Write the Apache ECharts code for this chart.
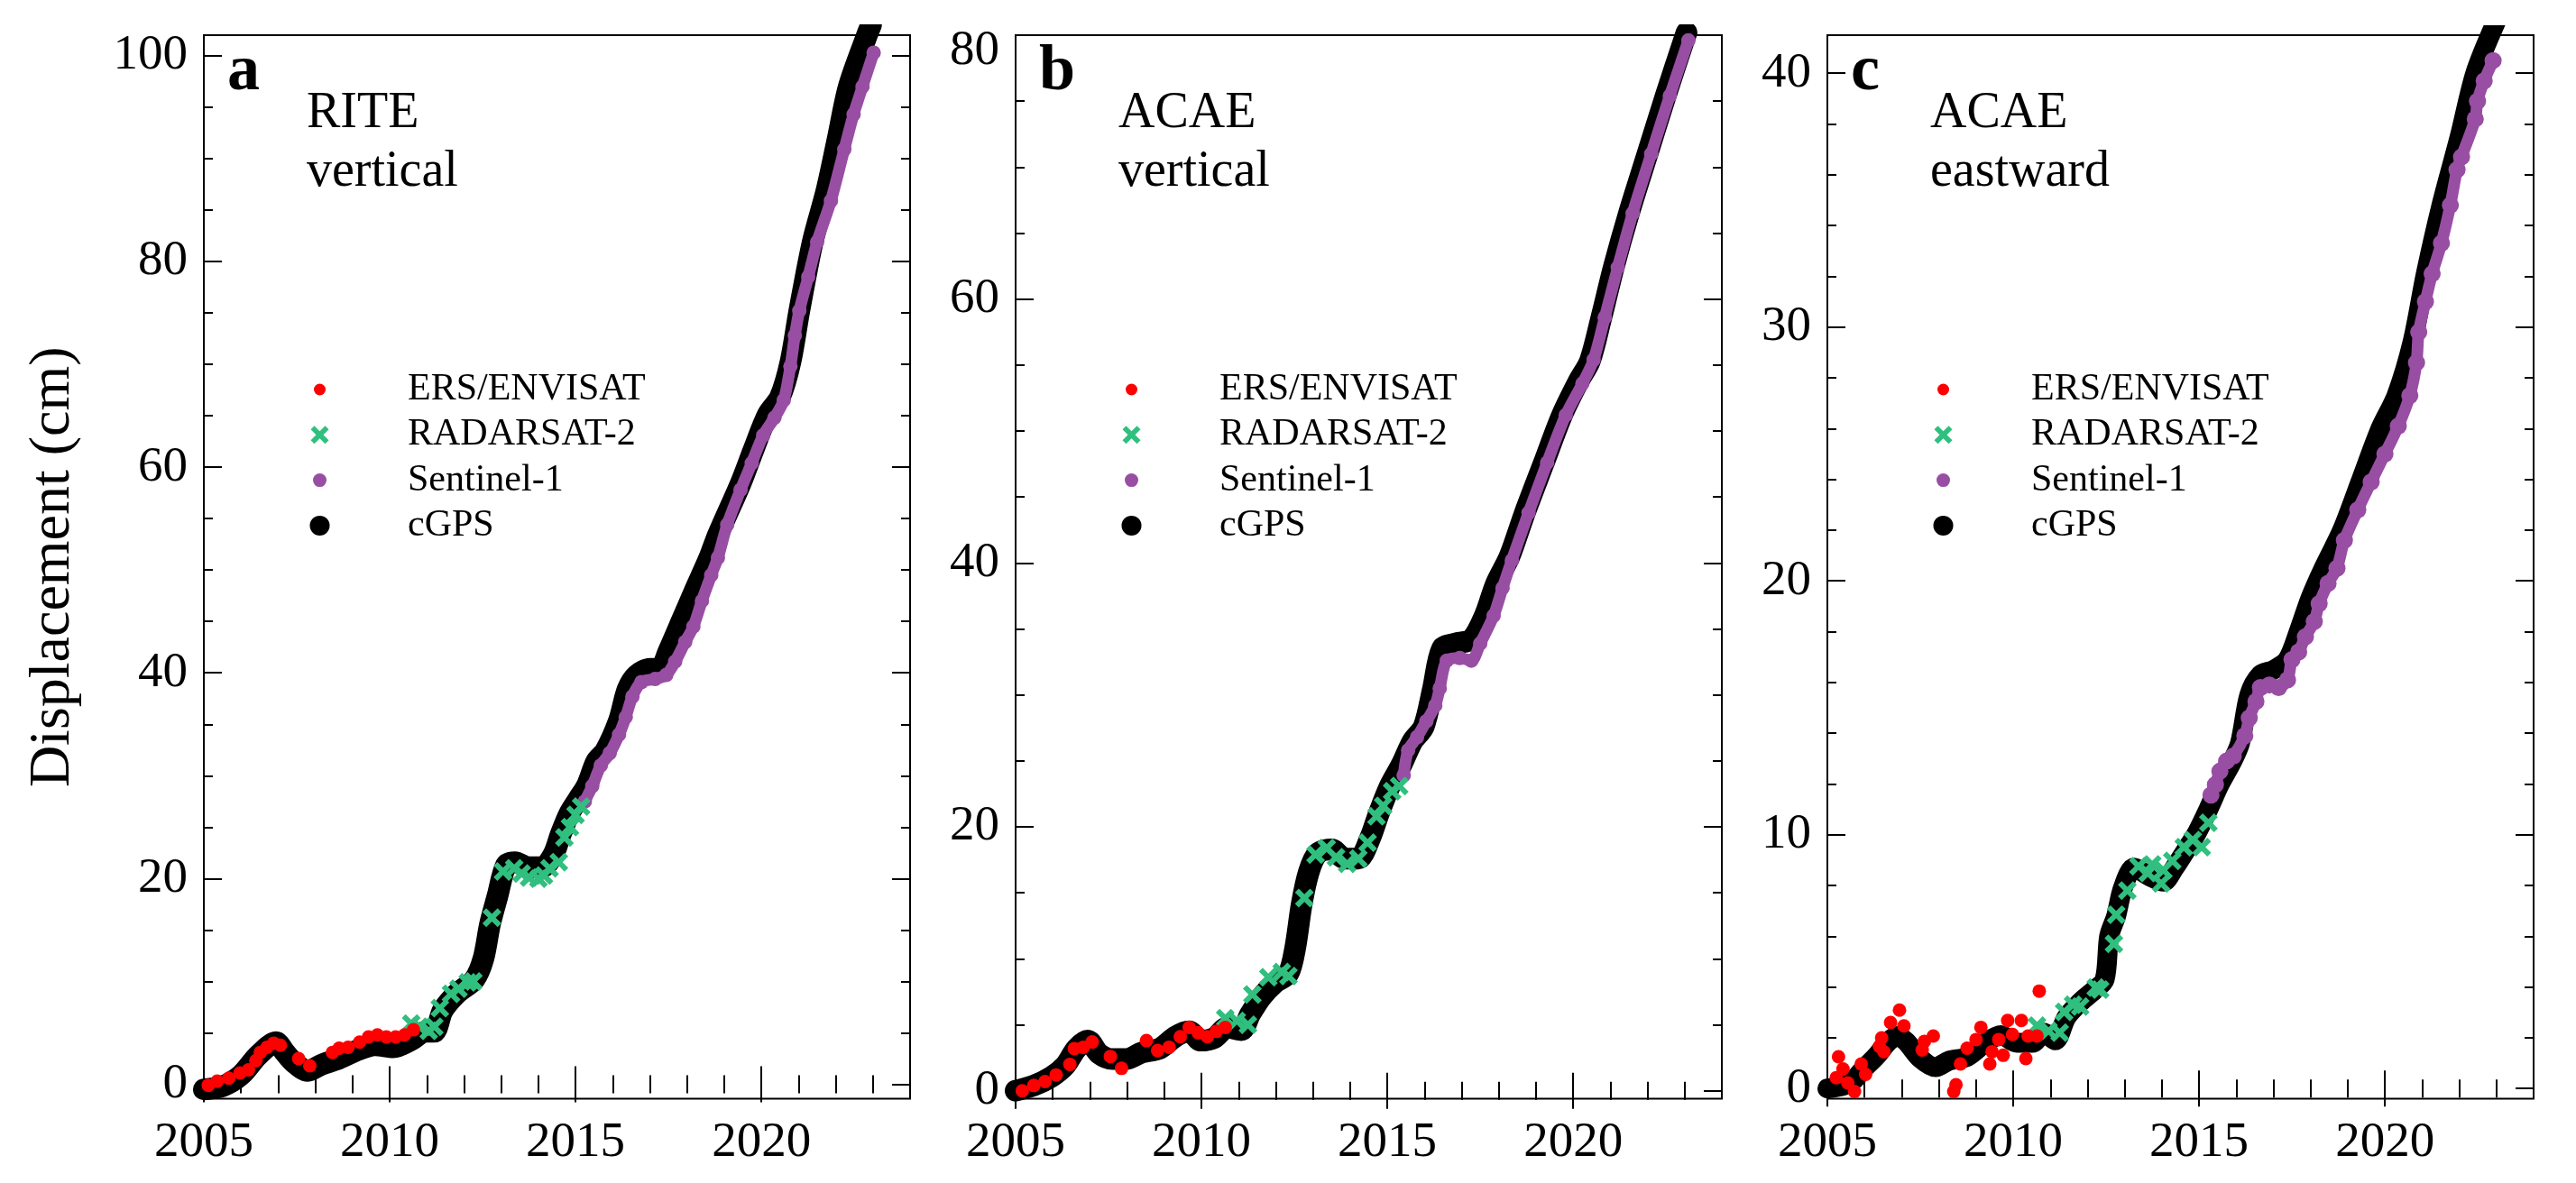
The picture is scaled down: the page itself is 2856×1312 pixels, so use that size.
<!DOCTYPE html>
<html>
<head>
<meta charset="utf-8">
<title>Displacement time series</title>
<script src="https://cdn.jsdelivr.net/npm/echarts@6/dist/echarts.min.js"></script>
<style>
  html, body { margin: 0; padding: 0; background: #fff; }
  #chart { width: 2856px; height: 1312px; }
</style>
</head>
<body>
<div id="chart"></div>
<script>
// ---- data: [decimal year, displacement cm] ----
// panel a : RITE vertical
const riteV_ers = [[2005.12,-0.1],[2005.36,0.3],[2005.67,0.6],[2005.97,1.1],[2006.2,1.4],[2006.4,2.3],[2006.52,3.1],
  [2006.7,3.6],[2006.88,4.0],[2007.06,3.8],[2007.55,2.5],[2007.85,1.8],[2008.46,3.1],[2008.64,3.5],[2008.88,3.6],
  [2009.19,4.1],[2009.43,4.6],[2009.67,4.8],[2009.91,4.6],[2010.16,4.6],[2010.4,4.8],[2010.64,5.3]];
const riteV_rs2 = [[2010.58,5.9],[2010.8,5.6],[2011.05,5.2],[2011.2,5.6],[2011.35,7.4],[2011.65,8.8],[2011.85,9.3],
  [2012.1,9.9],[2012.25,10.0],[2012.75,16.2],[2013.05,20.7],[2013.35,21.0],[2013.55,20.5],[2013.75,20.1],[2014.0,20.0],
  [2014.15,20.3],[2014.3,21.0],[2014.55,21.6],[2014.7,24.0],[2014.85,25.0],[2015.0,26.2],[2015.15,27.0]];
const riteV_s1 = [[2015.25,27.5],[2015.45,29.0],[2015.68,31.0],[2015.92,32.2],[2016.17,34.0],[2016.35,35.7],[2016.53,37.7],
  [2016.77,39.1],[2017.14,39.4],[2017.44,39.8],[2017.68,41.1],[2017.95,43.0],[2018.17,44.5],[2018.4,47.0],[2018.65,49.5],
  [2018.83,51.2],[2019.08,54.4],[2019.44,57.8],[2019.74,60.4],[2020.05,63.1],[2020.35,64.8],[2020.6,66.5],[2020.78,69.8],
  [2020.9,72.8],[2021.02,75.2],[2021.26,78.5],[2021.5,81.9],[2021.87,85.9],[2022.23,90.9],[2022.48,94.3],[2022.72,97.0],
  [2023.02,100.3]];
const riteV_gps = [[2005.0,-0.5],[2005.5,-0.2],[2006.0,0.9],[2006.46,2.8],[2006.94,4.1],[2007.18,3.1],[2007.43,2.1],
  [2007.8,1.3],[2008.16,1.9],[2008.64,2.5],[2009.13,3.3],[2009.6,3.8],[2010.1,3.6],[2010.58,4.3],[2010.95,5.1],
  [2011.19,5.1],[2011.43,7.2],[2011.8,8.8],[2012.28,10.2],[2012.52,12.2],[2012.7,15.6],[2012.9,18.3],[2013.13,21.3],
  [2013.37,21.6],[2013.74,21.1],[2014.1,21.1],[2014.4,22.3],[2014.6,24.3],[2014.83,26.3],[2015.07,27.7],[2015.3,29.0],
  [2015.56,31.4],[2015.8,32.4],[2016.17,35.4],[2016.4,38.4],[2016.65,39.8],[2017.0,40.4],[2017.26,40.4],[2017.5,42.1],
  [2017.86,45.1],[2018.23,48.2],[2018.6,51.2],[2018.83,53.4],[2019.44,58.4],[2019.8,61.8],[2020.17,65.1],[2020.5,66.8],
  [2020.78,70.2],[2021.02,75.2],[2021.38,81.9],[2021.75,86.9],[2022.05,91.9],[2022.35,97.0],[2022.84,102.0],[2022.95,103.0]];

// panel b : ACAE vertical
const acaeV_ers = [[2005.18,0.0],[2005.49,0.4],[2005.79,0.7],[2006.09,1.2],[2006.46,2.0],[2006.58,3.2],[2006.82,3.3],
  [2007.06,3.7],[2007.55,2.6],[2007.85,1.7],[2008.52,3.8],[2008.82,3.05],[2009.13,3.3],[2009.43,4.1],[2009.67,4.8],
  [2009.91,4.4],[2010.16,4.1],[2010.4,4.5],[2010.64,4.8]];
const acaeV_rs2 = [[2010.64,5.5],[2010.95,5.3],[2011.25,5.0],[2011.37,7.3],[2011.8,8.6],[2012.16,9.0],[2012.34,8.7],
  [2012.77,14.6],[2013.07,17.9],[2013.37,18.4],[2013.62,17.7],[2013.92,17.2],[2014.22,17.6],[2014.47,18.8],[2014.71,20.8],
  [2014.89,21.6],[2015.13,22.7],[2015.32,23.1]];
const acaeV_s1 = [[2015.44,23.9],[2015.56,25.8],[2015.8,26.8],[2016.05,28.0],[2016.29,29.2],[2016.41,30.5],[2016.6,32.6],
  [2016.95,32.8],[2017.26,32.6],[2017.5,33.9],[2017.86,36.0],[2018.1,38.1],[2018.35,40.2],[2018.8,43.8],[2019.3,47.6],
  [2019.8,51.2],[2020.25,53.6],[2020.55,55.4],[2020.85,58.6],[2021.2,62.4],[2021.6,66.5],[2022.1,71.0],[2022.6,75.4],
  [2023.1,79.6]];
const acaeV_gps = [[2005.0,0.0],[2005.49,0.4],[2005.97,1.07],[2006.33,1.9],[2006.64,3.2],[2006.94,3.8],[2007.25,2.8],
  [2007.6,2.4],[2007.97,2.4],[2008.4,2.9],[2008.88,3.2],[2009.3,4.1],[2009.67,4.5],[2009.98,3.8],[2010.34,4.0],
  [2010.7,4.8],[2011.07,4.6],[2011.31,5.8],[2011.61,7.1],[2011.98,8.2],[2012.34,8.9],[2012.52,10.8],[2012.7,14.2],
  [2012.89,16.6],[2013.13,18.0],[2013.5,18.3],[2013.86,17.6],[2014.22,17.6],[2014.53,19.1],[2014.77,21.0],[2015.07,23.1],
  [2015.38,24.7],[2015.68,26.5],[2015.98,27.6],[2016.23,30.5],[2016.47,33.5],[2016.83,33.9],[2017.26,34.2],[2017.62,36.0],
  [2017.92,38.4],[2018.29,40.5],[2018.7,43.8],[2019.2,47.5],[2019.7,51.2],[2020.15,53.8],[2020.45,55.3],[2020.75,58.5],
  [2021.1,62.5],[2021.5,66.5],[2022.0,71.0],[2022.5,75.5],[2023.05,80.2]];

// panel c : ACAE eastward
const acaeE_ers = [[2005.3,1.25],[2005.24,0.43],[2005.42,0.77],[2005.55,0.22],[2005.73,-0.12],[2005.91,0.97],[2006.03,0.56],
  [2006.4,1.66],[2006.52,1.45],[2006.46,2.0],[2006.7,2.6],[2006.94,3.09],[2007.06,2.47],[2007.55,1.52],[2007.61,1.86],
  [2007.85,2.07],[2008.46,0.15],[2008.4,-0.12],[2008.58,0.97],[2008.76,1.59],[2009.0,1.93],[2009.13,2.41],[2009.37,0.97],
  [2009.43,1.45],[2009.61,1.93],[2009.73,1.31],[2009.85,2.68],[2009.98,2.13],[2010.22,2.68],[2010.34,1.18],[2010.4,2.07],
  [2010.64,2.07],[2010.7,3.84]];
const acaeE_rs2 = [[2010.64,2.48],[2010.95,2.27],[2011.25,2.2],[2011.37,3.02],[2011.61,3.3],[2011.8,3.23],[2012.22,3.98],
  [2012.34,3.9],[2012.71,5.7],[2012.77,6.85],[2013.07,7.8],[2013.37,8.76],[2013.62,8.49],[2013.74,8.83],[2013.98,8.08],
  [2014.04,8.6],[2014.28,8.97],[2014.59,9.51],[2014.83,9.79],[2015.07,9.51],[2015.25,10.47]];
const acaeE_s1 = [[2015.32,11.56],[2015.44,11.97],[2015.56,12.5],[2015.74,12.9],[2015.92,13.1],[2016.23,13.9],[2016.35,14.6],
  [2016.53,15.25],[2016.65,15.8],[2016.89,15.9],[2017.14,15.8],[2017.38,16.1],[2017.5,16.9],[2017.68,17.2],[2017.86,17.8],
  [2018.1,18.4],[2018.23,19.1],[2018.47,19.9],[2018.71,20.5],[2018.91,21.6],[2019.27,22.8],[2019.63,23.9],[2020.0,25.0],
  [2020.36,26.1],[2020.67,27.3],[2020.85,28.6],[2020.91,29.8],[2021.09,31.0],[2021.27,32.1],[2021.52,33.3],[2021.76,34.8],
  [2021.94,36.2],[2022.06,36.7],[2022.43,38.2],[2022.49,38.9],[2022.67,39.7],[2022.91,40.5]];
const acaeE_gps = [[2005.0,0.0],[2005.6,0.2],[2005.97,0.77],[2006.33,1.3],[2006.64,1.85],[2006.88,2.07],[2007.12,1.85],
  [2007.49,1.2],[2007.91,0.84],[2008.28,1.1],[2008.76,1.25],[2009.25,1.8],[2009.67,2.1],[2010.1,1.8],[2010.52,1.8],
  [2010.83,2.2],[2011.13,1.9],[2011.43,2.8],[2011.8,3.4],[2012.16,3.85],[2012.46,4.3],[2012.58,6.0],[2012.77,6.8],
  [2012.95,7.9],[2013.25,8.7],[2013.62,8.4],[2014.04,8.15],[2014.34,8.7],[2014.65,9.4],[2014.95,10.1],[2015.25,11.0],
  [2015.56,12.0],[2015.86,12.8],[2016.1,13.6],[2016.35,15.5],[2016.65,16.3],[2017.01,16.5],[2017.38,16.9],[2017.68,18.0],
  [2017.99,19.3],[2018.35,20.5],[2018.85,22.0],[2019.34,23.9],[2019.88,26.0],[2020.31,27.3],[2020.74,29.4],[2021.1,32.1],
  [2021.52,34.8],[2022.01,37.5],[2022.43,40.0],[2022.98,42.0]];

// ---- ticks ----
const xLabels = [2005, 2010, 2015, 2020];
const xMinor = [2006,2007,2008,2009,2011,2012,2013,2014,2016,2017,2018,2019,2021,2022,2023];
const yLabelsA = [0, 20, 40, 60, 80, 100];
const yMinorA = [5,10,15,25,30,35,45,50,55,65,70,75,85,90,95];
const yLabelsB = [0, 20, 40, 60, 80];
const yMinorB = [5,10,15,25,30,35,45,50,55,65,70,75];
const yLabelsC = [0, 10, 20, 30, 40];
const yMinorC = [2,4,6,8,12,14,16,18,22,24,26,28,32,34,36,38];

const seriesNames = ['ERS/ENVISAT', 'RADARSAT-2', 'Sentinel-1', 'cGPS'];

const FONT = "'Liberation Serif', 'Times New Roman', serif";
const RED = '#ff0000', GREEN = '#30bf7e', PURPLE = '#984ea3', BLACK = '#000000';
const CROSS = 'path://M2,0 L5,3 L8,0 L10,2 L7,5 L10,8 L8,10 L5,7 L2,10 L0,8 L3,5 L0,2 Z';

const panels = [
  { letter: 'a', label: 'RITE\nvertical', left: 226, ymin: -1.4, ymax: 102, gpsW: 24, s1Size: 16,
    yLab: yLabelsA, yMin: yMinorA, data: [riteV_ers, riteV_rs2, riteV_s1, riteV_gps] },
  { letter: 'b', label: 'ACAE\nvertical', left: 1126, ymin: -0.6, ymax: 80, gpsW: 24, s1Size: 16,
    yLab: yLabelsB, yMin: yMinorB, data: [acaeV_ers, acaeV_rs2, acaeV_s1, acaeV_gps] },
  { letter: 'c', label: 'ACAE\neastward', left: 2026, ymin: -0.4, ymax: 41.5, gpsW: 22, s1Size: 19,
    yLab: yLabelsC, yMin: yMinorC, data: [acaeE_ers, acaeE_rs2, acaeE_s1, acaeE_gps] }
];

const GRID_TOP = 39, GRID_H = 1179.5, GRID_W = 783;

const chart = echarts.init(document.getElementById('chart'));

let grid = [], xAxis = [], yAxis = [], series = [], legend = [], title = [];

function tickAxis(gi, pos, min, max, values, len, extra) {
  return Object.assign({
    type: 'value', gridIndex: gi, position: pos, min: min, max: max,
    axisLine: { show: false },
    splitLine: { show: false },
    axisTick: { show: true, inside: true, length: len, customValues: values,
                lineStyle: { color: '#000', width: 2 } },
    axisLabel: { show: false }
  }, extra || {});
}

panels.forEach((p, gi) => {
  grid.push({ left: p.left, top: GRID_TOP, width: GRID_W, height: GRID_H,
              show: true, borderColor: '#000', borderWidth: 2, backgroundColor: 'transparent' });

  // x axes: bottom (labels + major), bottom minor, top major, top minor
  xAxis.push(tickAxis(gi, 'bottom', 2005, 2024, xLabels, 20, {
    axisLabel: { show: true, customValues: xLabels, margin: 22, fontSize: 55, fontFamily: FONT, color: '#000',
                 formatter: v => String(v) }
  }));
  xAxis.push(tickAxis(gi, 'bottom', 2005, 2024, xMinor, 10));
  xAxis.push(tickAxis(gi, 'top', 2005, 2024, xLabels, 20));
  xAxis.push(tickAxis(gi, 'top', 2005, 2024, xMinor, 10));

  const yMain = tickAxis(gi, 'left', p.ymin, p.ymax, p.yLab, 20, {
    axisLabel: { show: true, customValues: p.yLab, margin: 18, fontSize: 55, fontFamily: FONT, color: '#000',
                 formatter: v => (v === p.ymax ? '{top|' + v + '}' : String(v)),
                 rich: { top: { fontSize: 55, fontFamily: FONT, color: '#000', padding: [36, 0, 0, 0] } } }
  });
  if (gi === 0) {
    yMain.name = 'Displacement (cm)';
    yMain.nameLocation = 'middle';
    yMain.nameRotate = 90;
    yMain.nameGap = 135;
    yMain.nameTextStyle = { fontSize: 64, fontFamily: FONT, color: '#000' };
  }
  yAxis.push(yMain);
  yAxis.push(tickAxis(gi, 'left', p.ymin, p.ymax, p.yMin, 10));
  yAxis.push(tickAxis(gi, 'right', p.ymin, p.ymax, p.yLab, 20));
  yAxis.push(tickAxis(gi, 'right', p.ymin, p.ymax, p.yMin, 10));

  const xi = gi * 4, yi = gi * 4;
  const [ers, rs2, s1, gps] = p.data;
  series.push({
    name: 'cGPS', type: 'line', xAxisIndex: xi, yAxisIndex: yi, data: gps, z: 1,
    showSymbol: false, symbol: 'circle', smooth: 0.3,
    lineStyle: { color: BLACK, width: p.gpsW, cap: 'round', join: 'round' },
    itemStyle: { color: BLACK }
  });
  series.push({
    name: 'Sentinel-1', type: 'line', xAxisIndex: xi, yAxisIndex: yi, data: s1, z: 2,
    symbol: 'circle', symbolSize: p.s1Size, showSymbol: true, showAllSymbol: true, smooth: 0.3,
    lineStyle: { color: PURPLE, width: 13, cap: 'round', join: 'round' },
    itemStyle: { color: PURPLE }
  });
  series.push({
    name: 'RADARSAT-2', type: 'scatter', xAxisIndex: xi, yAxisIndex: yi, data: rs2, z: 3,
    symbol: CROSS, symbolSize: 21, itemStyle: { color: GREEN, opacity: 1 }
  });
  series.push({
    name: 'ERS/ENVISAT', type: 'scatter', xAxisIndex: xi, yAxisIndex: yi, data: ers, z: 4,
    symbol: 'circle', symbolSize: 15, itemStyle: { color: RED, opacity: 1 }
  });

  // panel letter and station label
  title.push({ text: p.letter, left: p.left + 26, top: 44, padding: 0,
               textStyle: { fontSize: 72, fontWeight: 'bold', fontFamily: FONT, color: '#000', lineHeight: 72 } });
  title.push({ text: p.label, left: p.left + 114, top: 94, padding: 0,
               textStyle: { fontSize: 56, fontWeight: 'normal', fontFamily: FONT, color: '#000', lineHeight: 65 } });

  // legend: one component per entry so each marker keeps its own size
  const icons = ['circle', CROSS, 'circle', 'circle'];
  const sizes = [13, 20, 15, 22];
  seriesNames.forEach((nm, k) => {
    const s = sizes[k];
    const cy = 432 + k * 50.3;
    legend.push({
      left: p.left + 128.5 - s / 2, top: cy - 21, padding: 0, orient: 'vertical',
      itemWidth: s, itemHeight: s, selectedMode: false,
      data: [{ name: nm, icon: icons[k] }],
      textStyle: { fontSize: 42, fontFamily: FONT, color: '#000', lineHeight: 42,
                   padding: [0, 0, 0, 92.5 - s / 2] }
    });
  });
});

chart.setOption({
  backgroundColor: '#fff',
  animation: false,
  title: title,
  legend: legend,
  grid: grid,
  xAxis: xAxis,
  yAxis: yAxis,
  series: series
});
</script>
</body>
</html>
